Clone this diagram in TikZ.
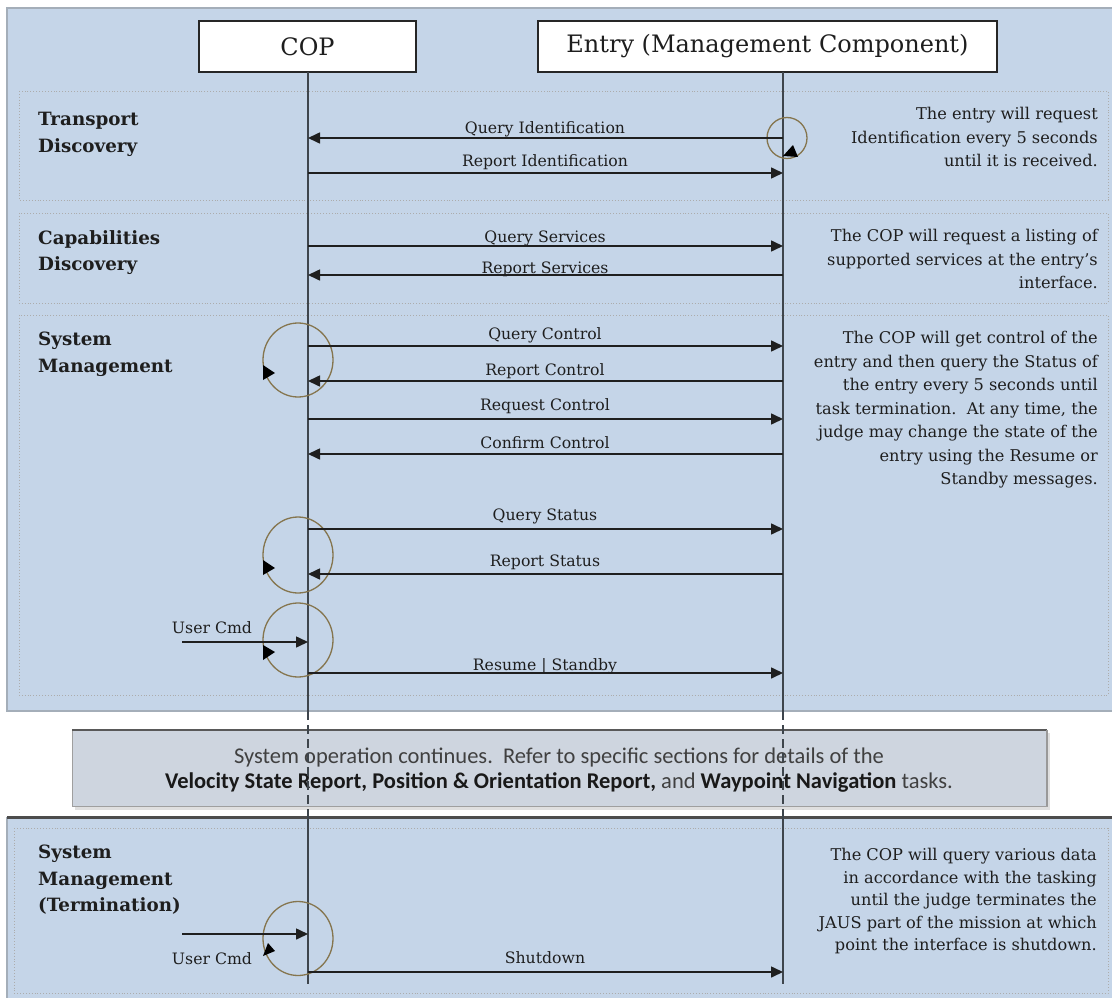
\documentclass[tikz,border=0pt]{standalone}
\usepackage{fontspec}
\setmainfont{DejaVu Serif}
\newfontfamily\boxfont{Carlito}
\usetikzlibrary{arrows.meta}
\definecolor{panel}{HTML}{C5D5E8}
\definecolor{panelborder}{HTML}{A4AEB9}
\definecolor{loopc}{HTML}{85754E}
\definecolor{lifec}{HTML}{3E454C}
\definecolor{midfill}{HTML}{CED5DF}
\definecolor{txt}{HTML}{1E1E1E}
\begin{document}
\begin{tikzpicture}[x=1pt,y=-1pt,
  msg/.style={draw=black!88, line width=1.6pt, -{Triangle[length=12pt,width=11pt]}},
  lbl/.style={font=\fontsize{15.7}{19}\selectfont, text=txt, inner sep=0pt, anchor=base},
  head/.style={font=\bfseries\fontsize{18.3}{26.5}\selectfont, text=txt, align=left, anchor=north west, inner sep=0pt},
  note/.style={font=\fontsize{16.2}{23.5}\selectfont, text=txt, align=right, anchor=north east, inner sep=0pt},
  loopline/.style={draw=loopc, line width=1.3pt},
  sect/.style={draw=gray!65, dotted, line width=0.9pt},
  life/.style={draw=lifec, line width=1.6pt},
  lifedash/.style={draw=lifec, line width=1.4pt, dash pattern=on 9pt off 5pt},
  hbox/.style={draw=black!85, fill=white, line width=1.6pt, inner sep=0pt, font=\fontsize{24}{28}\selectfont, text=txt},
  tip/.style={fill=black}
]
\useasboundingbox (0,0) rectangle (1112,998);
\fill[white] (0,0) rectangle (1112,998);

% panels
\draw[fill=panel, draw=panelborder, line width=2pt] (7,8) rectangle (1116,711);
\fill[panel] (7,817) rectangle (1116,1002);
\draw[draw=panelborder, line width=1.5pt] (7,1002) -- (7,817);
\draw[draw=black!70, line width=3pt] (7,817) -- (1116,817);

% section boxes
\draw[sect] (19,91) rectangle (1108,200);
\draw[sect] (19,213) rectangle (1108,303);
\draw[sect] (19,315) rectangle (1108,695);
\draw[sect] (14,828) rectangle (1108,993);

% headers
\node[hbox, minimum width=217pt, minimum height=51pt] (cop) at (307.5,46.5) {COP};
\node[hbox, minimum width=459pt, minimum height=51pt] (entry) at (767.5,46.5) {Entry (Management Component)};

% lifeline coordinates
\coordinate (copT) at (308,72);
\coordinate (copA) at (308,711);
\coordinate (copB) at (308,817);
\coordinate (copE) at (308,984);
\coordinate (entT) at (783,72);
\coordinate (entA) at (783,711);
\coordinate (entB) at (783,817);
\coordinate (entE) at (783,984);

% middle box
\fill[gray!25] (75,733) rectangle (1050,810);
\fill[midfill] (72,730) rectangle (1047,806);
\draw[gray!75, line width=1pt] (72,730) rectangle (1047,806);
\draw[black!65, line width=2.5pt] (72,730) -- (1047,730);
\draw[gray!80, line width=2pt] (1047,730) -- (1047,806);
\node[font=\boxfont\fontsize{22.5}{24.5}\selectfont, text=black!75, align=center, inner sep=0pt] (midtext) at (559,770)
  {System operation continues.\ \ Refer to specific sections for details of the\\
   {\color{black!90}\bfseries Velocity State Report, Position \& Orientation Report,} and {\color{black!90}\bfseries Waypoint Navigation} tasks.};

% lifelines
\draw[life] (copT) -- (copA);
\draw[lifedash] (copA) -- (copB);
\draw[life] (copB) -- (copE);
\draw[life] (entT) -- (entA);
\draw[lifedash] (entA) -- (entB);
\draw[life] (entB) -- (entE);

% headings
\node[head] (h1) at (38,112) {Transport\\Discovery};
\node[head] (h2) at (38,230) {Capabilities\\Discovery};
\node[head] (h3) at (38,332) {System\\Management};
\node[head] (h4) at (38,845) {System\\Management\\(Termination)};

% notes
\node[note] (n1) at (1098,107) {The entry will request\\Identification every 5 seconds\\until it is received.};
\node[note] (n2) at (1098,229) {The COP will request a listing of\\supported services at the entry's\\interface.};
\node[note] (n3) at (1098,331) {The COP will get control of the\\entry and then query the Status of\\the entry every 5 seconds until\\task termination.\ \ At any time, the\\judge may change the state of the\\entry using the Resume or\\Standby messages.};
\node[note, font=\fontsize{16.2}{22.5}\selectfont] (n4) at (1097,848) {The COP will query various data\\in accordance with the tasking\\until the judge terminates the\\JAUS part of the mission at which\\point the interface is shutdown.};

% loops
\draw[loopline] (787,138) ellipse [x radius=20, y radius=20.5];
\fill[tip] (793,145) -- (783,156) -- (798,157) -- cycle;
\draw[loopline] (298,360) ellipse [x radius=35, y radius=37];
\fill[tip] (263,365) -- (263,380) -- (275,373) -- cycle;
\draw[loopline] (298,555) ellipse [x radius=35, y radius=38];
\fill[tip] (263,560) -- (263,575) -- (275,568) -- cycle;
\draw[loopline] (298,640) ellipse [x radius=35, y radius=37];
\fill[tip] (263,645) -- (263,660) -- (275,652) -- cycle;
\draw[loopline] (298,938.5) ellipse [x radius=35, y radius=37];
\fill[tip] (268,943) -- (263,956) -- (275,951) -- cycle;

% message end points
\coordinate (c1) at (308,138);  \coordinate (e1) at (783,138);
\coordinate (c2) at (308,173);  \coordinate (e2) at (783,173);
\coordinate (c3) at (308,246);  \coordinate (e3) at (783,246);
\coordinate (c4) at (308,275);  \coordinate (e4) at (783,275);
\coordinate (c5) at (308,346);  \coordinate (e5) at (783,346);
\coordinate (c6) at (308,381);  \coordinate (e6) at (783,381);
\coordinate (c7) at (308,419);  \coordinate (e7) at (783,419);
\coordinate (c8) at (308,454);  \coordinate (e8) at (783,454);
\coordinate (c9) at (308,529);  \coordinate (e9) at (783,529);
\coordinate (c10) at (308,574); \coordinate (e10) at (783,574);
\coordinate (c11) at (308,673); \coordinate (e11) at (783,673);
\coordinate (c12) at (308,972); \coordinate (e12) at (783,972);
\coordinate (u1) at (182,642);  \coordinate (cu1) at (308,642);
\coordinate (u2) at (182,934);  \coordinate (cu2) at (308,934);

% messages
\draw[msg] (e1) -- (c1);
\draw[msg] (c2) -- (e2);
\draw[msg] (c3) -- (e3);
\draw[msg] (e4) -- (c4);
\draw[msg] (c5) -- (e5);
\draw[msg] (e6) -- (c6);
\draw[msg] (c7) -- (e7);
\draw[msg] (e8) -- (c8);
\draw[msg] (c9) -- (e9);
\draw[msg] (e10) -- (c10);
\draw[msg] (c11) -- (e11);
\draw[msg] (c12) -- (e12);
\draw[msg] (u1) -- (cu1);
\draw[msg] (u2) -- (cu2);

% labels
\node[lbl] (l1) at (545,133) {Query Identification};
\node[lbl] (l2) at (545,166) {Report Identification};
\node[lbl] (l3) at (545,242) {Query Services};
\node[lbl] (l4) at (545,273) {Report Services};
\node[lbl] (l5) at (545,339) {Query Control};
\node[lbl] (l6) at (545,375) {Report Control};
\node[lbl] (l7) at (545,410) {Request Control};
\node[lbl] (l8) at (545,448) {Confirm Control};
\node[lbl] (l9) at (545,520) {Query Status};
\node[lbl] (l10) at (545,566) {Report Status};
\node[lbl] (l11) at (545,670) {Resume | Standby};
\node[lbl] (l12) at (545,963) {Shutdown};
\node[lbl] (lu1) at (212,633) {User Cmd};
\node[lbl] (lu2) at (212,964) {User Cmd};
\end{tikzpicture}
\end{document}
